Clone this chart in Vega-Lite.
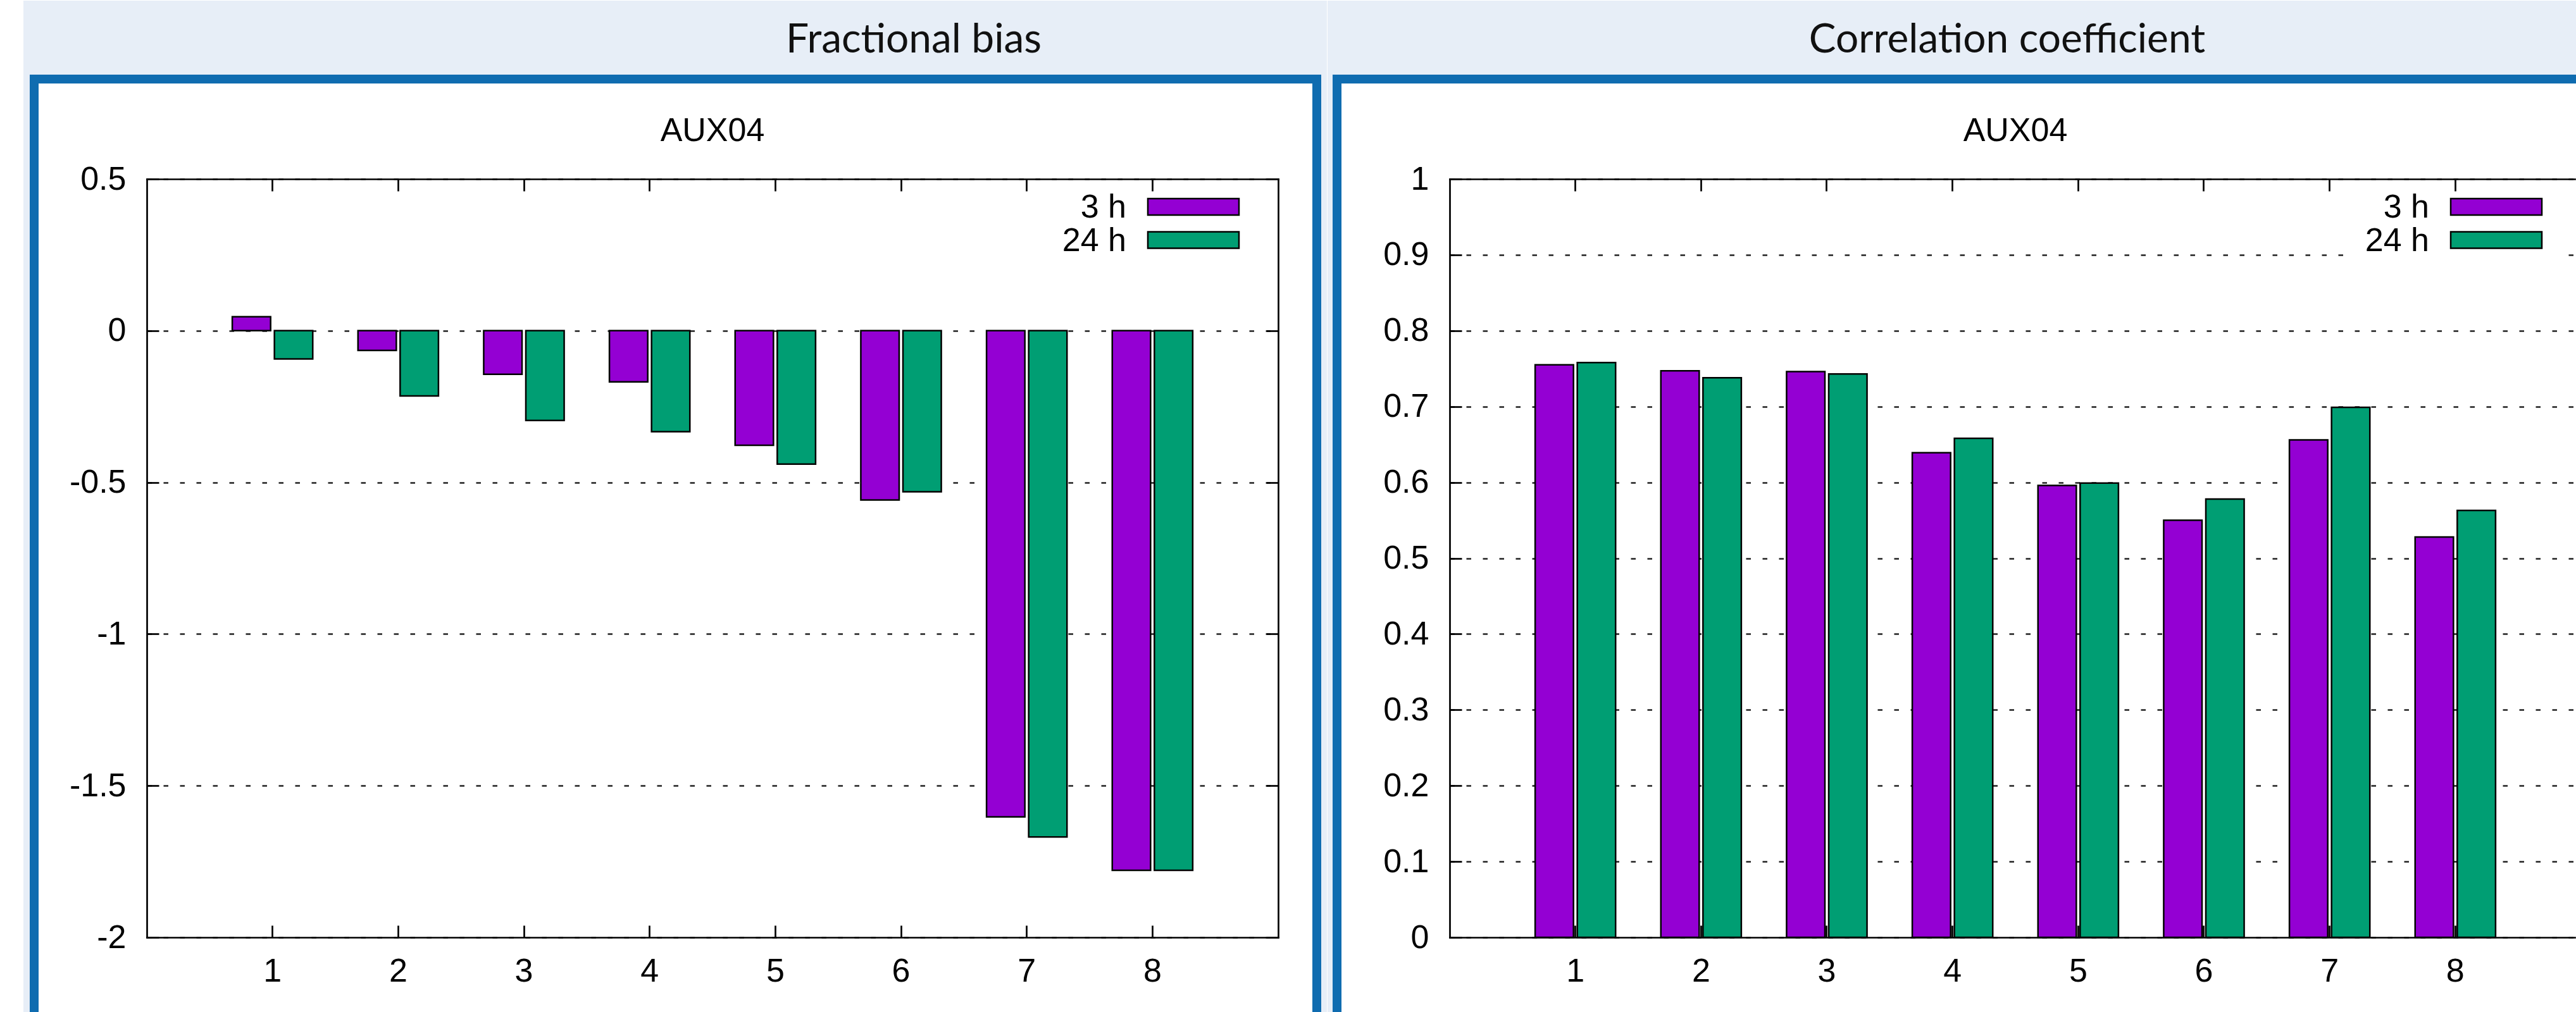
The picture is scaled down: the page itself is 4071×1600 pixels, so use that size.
{
  "$schema": "https://vega.github.io/schema/vega-lite/v6.json",
  "background": "white",
  "padding": {"left": 37, "top": 0, "right": 0, "bottom": 0},
  "autosize": {"type": "pad"},
  "spacing": 0,
  "datasets": {
    "stats": [
      {"lead": "1", "window": "3 h", "fb": 0.046, "r": 0.755},
      {"lead": "1", "window": "24 h", "fb": -0.093, "r": 0.758},
      {"lead": "2", "window": "3 h", "fb": -0.065, "r": 0.747},
      {"lead": "2", "window": "24 h", "fb": -0.215, "r": 0.738},
      {"lead": "3", "window": "3 h", "fb": -0.144, "r": 0.746},
      {"lead": "3", "window": "24 h", "fb": -0.296, "r": 0.743},
      {"lead": "4", "window": "3 h", "fb": -0.169, "r": 0.639},
      {"lead": "4", "window": "24 h", "fb": -0.333, "r": 0.658},
      {"lead": "5", "window": "3 h", "fb": -0.378, "r": 0.596},
      {"lead": "5", "window": "24 h", "fb": -0.44, "r": 0.599},
      {"lead": "6", "window": "3 h", "fb": -0.558, "r": 0.55},
      {"lead": "6", "window": "24 h", "fb": -0.531, "r": 0.578},
      {"lead": "7", "window": "3 h", "fb": -1.603, "r": 0.656},
      {"lead": "7", "window": "24 h", "fb": -1.669, "r": 0.699},
      {"lead": "8", "window": "3 h", "fb": -1.779, "r": 0.528},
      {"lead": "8", "window": "24 h", "fb": -1.779, "r": 0.563}
    ]
  },
  "resolve": {"scale": {"x": "independent", "y": "independent"}},
  "hconcat": [
    {
      "width": 1788,
      "height": 1199,
      "data": {"name": "stats"},
      "resolve": {"scale": {"x": "independent"}},
      "layer": [
        {"data": {"values": [{"k": 1}]}, "mark": {"type": "rect", "fill": "#e7eef7"},
         "encoding": {"x": {"datum": -0.98154, "type": "quantitative", "scale": {"domain": [0, 9], "nice": false, "zero": false}, "axis": null}, "x2": {"datum": 9.38758},
                      "y": {"datum": 1.08799, "type": "quantitative", "scale": {"domain": [-2, 0.5], "nice": false, "zero": false}, "axis": null}, "y2": {"datum": 0.84404}}},
        {"data": {"values": [{"k": 1}]}, "mark": {"type": "rect", "fill": "#e7eef7"},
         "encoding": {"x": {"datum": -0.98154, "type": "quantitative", "scale": {"domain": [0, 9], "nice": false, "zero": false}, "axis": null}, "x2": {"datum": -0.93121},
                      "y": {"datum": 0.84404, "type": "quantitative", "scale": {"domain": [-2, 0.5], "nice": false, "zero": false}, "axis": null}, "y2": {"datum": -2.24708}}},
        {"data": {"values": [{"k": 1}]}, "mark": {"type": "rect", "fill": "#e7eef7"},
         "encoding": {"x": {"datum": 9.34228, "type": "quantitative", "scale": {"domain": [0, 9], "nice": false, "zero": false}, "axis": null}, "x2": {"datum": 9.38758},
                      "y": {"datum": 0.84404, "type": "quantitative", "scale": {"domain": [-2, 0.5], "nice": false, "zero": false}, "axis": null}, "y2": {"datum": -2.24708}}},
        {"data": {"values": [{"k": 1}]}, "mark": {"type": "rect", "fill": "#0f6cb0"},
         "encoding": {"x": {"datum": -0.93121, "type": "quantitative", "scale": {"domain": [0, 9], "nice": false, "zero": false}, "axis": null}, "x2": {"datum": -0.86074},
                      "y": {"datum": 0.84404, "type": "quantitative", "scale": {"domain": [-2, 0.5], "nice": false, "zero": false}, "axis": null}, "y2": {"datum": -2.24708}}},
        {"data": {"values": [{"k": 1}]}, "mark": {"type": "rect", "fill": "#0f6cb0"},
         "encoding": {"x": {"datum": -0.93121, "type": "quantitative", "scale": {"domain": [0, 9], "nice": false, "zero": false}, "axis": null}, "x2": {"datum": 9.34228},
                      "y": {"datum": 0.84404, "type": "quantitative", "scale": {"domain": [-2, 0.5], "nice": false, "zero": false}, "axis": null}, "y2": {"datum": 0.81485}}},
        {"data": {"values": [{"k": 1}]}, "mark": {"type": "rect", "fill": "#0f6cb0"},
         "encoding": {"x": {"datum": 9.27181, "type": "quantitative", "scale": {"domain": [0, 9], "nice": false, "zero": false}, "axis": null}, "x2": {"datum": 9.34228},
                      "y": {"datum": 0.84404, "type": "quantitative", "scale": {"domain": [-2, 0.5], "nice": false, "zero": false}, "axis": null}, "y2": {"datum": -2.24708}}},
        {"mark": {"type": "bar", "stroke": "black", "strokeWidth": 2.5},
         "encoding": {
           "x": {"field": "lead", "type": "ordinal", "scale": {"type": "band", "paddingInner": 0.36, "paddingOuter": 0.68}, "axis": {"orient": "bottom", "title": null, "labelAngle": 0, "labelPadding": 47}},
           "xOffset": {"field": "window", "type": "nominal", "sort": ["3 h", "24 h"], "scale": {"paddingInner": 0.09, "paddingOuter": 0}},
           "y": {"field": "fb", "type": "quantitative", "scale": {"domain": [-2, 0.5], "nice": false, "zero": false},
                 "axis": {"orient": "left", "title": null, "values": [-2, -1.5, -1, -0.5, 0, 0.5], "grid": true, "format": "~g", "labelExpr": "replace(datum.label, '\u2212', '-')", "labelPadding": 52, "labelFlush": false, "labelOverlap": false}},
           "color": {"field": "window", "type": "nominal", "scale": {"domain": ["3 h", "24 h"], "range": ["#9400d3", "#009e73"]}, "legend": null}
         }},
        {"data": {"values": [{"k": 1}]}, "mark": {"type": "rect", "stroke": "black", "strokeWidth": 2.5},
         "encoding": {"x": {"datum": 7.96309, "type": "quantitative", "scale": {"domain": [0, 9], "nice": false, "zero": false}, "axis": null}, "x2": {"datum": 8.68792},
                      "y": {"datum": 0.43536, "type": "quantitative", "scale": {"domain": [-2, 0.5], "nice": false, "zero": false}, "axis": null}, "y2": {"datum": 0.38115},
                      "color": {"datum": "3 h", "type": "nominal", "legend": null}}},
        {"data": {"values": [{"k": 1}]}, "mark": {"type": "rect", "stroke": "black", "strokeWidth": 2.5},
         "encoding": {"x": {"datum": 7.96309, "type": "quantitative", "scale": {"domain": [0, 9], "nice": false, "zero": false}, "axis": null}, "x2": {"datum": 8.68792},
                      "y": {"datum": 0.3259, "type": "quantitative", "scale": {"domain": [-2, 0.5], "nice": false, "zero": false}, "axis": null}, "y2": {"datum": 0.27169},
                      "color": {"datum": "24 h", "type": "nominal", "legend": null}}},
        {"data": {"values": [{"k": 1}]}, "mark": {"type": "text", "text": "3 h", "align": "right", "baseline": "alphabetic", "font": "Liberation Sans", "fontSize": 52, "color": "black"},
         "encoding": {"x": {"datum": 7.79195, "type": "quantitative", "scale": {"domain": [0, 9], "nice": false, "zero": false}, "axis": null},
                      "y": {"datum": 0.37177, "type": "quantitative", "scale": {"domain": [-2, 0.5], "nice": false, "zero": false}, "axis": null}}},
        {"data": {"values": [{"k": 1}]}, "mark": {"type": "text", "text": "24 h", "align": "right", "baseline": "alphabetic", "font": "Liberation Sans", "fontSize": 52, "color": "black"},
         "encoding": {"x": {"datum": 7.79195, "type": "quantitative", "scale": {"domain": [0, 9], "nice": false, "zero": false}, "axis": null},
                      "y": {"datum": 0.2623, "type": "quantitative", "scale": {"domain": [-2, 0.5], "nice": false, "zero": false}, "axis": null}}},
        {"data": {"values": [{"k": 1}]}, "mark": {"type": "text", "text": "AUX04", "align": "center", "baseline": "alphabetic", "font": "Liberation Sans", "fontSize": 52, "color": "black"},
         "encoding": {"x": {"datum": 4.5, "type": "quantitative", "scale": {"domain": [0, 9], "nice": false, "zero": false}, "axis": null},
                      "y": {"datum": 0.62573, "type": "quantitative", "scale": {"domain": [-2, 0.5], "nice": false, "zero": false}, "axis": null}}},
        {"data": {"values": [{"k": 1}]}, "mark": {"type": "text", "text": "Fractional bias", "align": "center", "baseline": "alphabetic", "font": "Lato", "fontSize": 64, "color": "#111111"},
         "encoding": {"x": {"datum": 6.10067, "type": "quantitative", "scale": {"domain": [0, 9], "nice": false, "zero": false}, "axis": null},
                      "y": {"datum": 0.91701, "type": "quantitative", "scale": {"domain": [-2, 0.5], "nice": false, "zero": false}, "axis": null}}},
        {"mark": {"type": "rule", "opacity": 0},
         "encoding": {"x": {"field": "lead", "type": "ordinal", "scale": {"type": "band", "paddingInner": 0.36, "paddingOuter": 0.68}, "axis": {"orient": "top", "labels": false, "title": null}}}},
        {"mark": {"type": "rule", "opacity": 0},
         "encoding": {"y": {"field": "fb", "type": "quantitative", "scale": {"domain": [-2, 0.5], "nice": false, "zero": false}, "axis": {"orient": "right", "labels": false, "title": null, "values": [-2, -1.5, -1, -0.5, 0, 0.5]}}}}
      ]
    },
    {
      "width": 1778,
      "height": 1199,
      "data": {"name": "stats"},
      "resolve": {"scale": {"x": "independent"}},
      "layer": [
        {"data": {"values": [{"k": 1}]}, "mark": {"type": "rect", "fill": "#e7eef7"},
         "encoding": {"x": {"datum": -0.97148, "type": "quantitative", "scale": {"domain": [0, 8.94966], "nice": false, "zero": false}, "axis": null}, "x2": {"datum": 8.96225},
                      "y": {"datum": 1.2352, "type": "quantitative", "scale": {"domain": [0, 1], "nice": false, "zero": false}, "axis": null}, "y2": {"datum": 1.13761}}},
        {"data": {"values": [{"k": 1}]}, "mark": {"type": "rect", "fill": "#e7eef7"},
         "encoding": {"x": {"datum": -0.97148, "type": "quantitative", "scale": {"domain": [0, 8.94966], "nice": false, "zero": false}, "axis": null}, "x2": {"datum": -0.93121},
                      "y": {"datum": 1.13761, "type": "quantitative", "scale": {"domain": [0, 1], "nice": false, "zero": false}, "axis": null}, "y2": {"datum": -0.09883}}},
        {"data": {"values": [{"k": 1}]}, "mark": {"type": "rect", "fill": "#0f6cb0"},
         "encoding": {"x": {"datum": -0.93121, "type": "quantitative", "scale": {"domain": [0, 8.94966], "nice": false, "zero": false}, "axis": null}, "x2": {"datum": -0.86074},
                      "y": {"datum": 1.13761, "type": "quantitative", "scale": {"domain": [0, 1], "nice": false, "zero": false}, "axis": null}, "y2": {"datum": -0.09883}}},
        {"data": {"values": [{"k": 1}]}, "mark": {"type": "rect", "fill": "#0f6cb0"},
         "encoding": {"x": {"datum": -0.93121, "type": "quantitative", "scale": {"domain": [0, 8.94966], "nice": false, "zero": false}, "axis": null}, "x2": {"datum": 8.96225},
                      "y": {"datum": 1.13761, "type": "quantitative", "scale": {"domain": [0, 1], "nice": false, "zero": false}, "axis": null}, "y2": {"datum": 1.12594}}},
        {"data": {"values": [{"k": 1}]}, "mark": {"type": "rect", "fill": "white"},
         "encoding": {"x": {"datum": 7.12752, "type": "quantitative", "scale": {"domain": [0, 8.94966], "nice": false, "zero": false}, "axis": null}, "x2": {"datum": 8.84396},
                      "y": {"datum": 0.9825, "type": "quantitative", "scale": {"domain": [0, 1], "nice": false, "zero": false}, "axis": null}, "y2": {"datum": 0.87}}},
        {"mark": {"type": "bar", "stroke": "black", "strokeWidth": 2.5},
         "encoding": {
           "x": {"field": "lead", "type": "ordinal", "scale": {"type": "band", "paddingInner": 0.36, "paddingOuter": 0.65485, "align": 0.5192}, "axis": {"orient": "bottom", "title": null, "labelAngle": 0, "labelPadding": 47}},
           "xOffset": {"field": "window", "type": "nominal", "sort": ["3 h", "24 h"], "scale": {"paddingInner": 0.09, "paddingOuter": 0}},
           "y": {"field": "r", "type": "quantitative", "scale": {"domain": [0, 1], "nice": false, "zero": false},
                 "axis": {"orient": "left", "title": null, "values": [0, 0.1, 0.2, 0.3, 0.4, 0.5, 0.6, 0.7, 0.8, 0.9, 1], "grid": true, "format": "~g", "labelExpr": "replace(datum.label, '\u2212', '-')", "labelPadding": 52, "labelFlush": false, "labelOverlap": false}},
           "color": {"field": "window", "type": "nominal", "scale": {"domain": ["3 h", "24 h"], "range": ["#9400d3", "#009e73"]}, "legend": null}
         }},
        {"data": {"values": [{"k": 1}]}, "mark": {"type": "rect", "stroke": "black", "strokeWidth": 2.5},
         "encoding": {"x": {"datum": 7.96309, "type": "quantitative", "scale": {"domain": [0, 8.94966], "nice": false, "zero": false}, "axis": null}, "x2": {"datum": 8.68792},
                      "y": {"datum": 0.97415, "type": "quantitative", "scale": {"domain": [0, 1], "nice": false, "zero": false}, "axis": null}, "y2": {"datum": 0.95246},
                      "color": {"datum": "3 h", "type": "nominal", "legend": null}}},
        {"data": {"values": [{"k": 1}]}, "mark": {"type": "rect", "stroke": "black", "strokeWidth": 2.5},
         "encoding": {"x": {"datum": 7.96309, "type": "quantitative", "scale": {"domain": [0, 8.94966], "nice": false, "zero": false}, "axis": null}, "x2": {"datum": 8.68792},
                      "y": {"datum": 0.93036, "type": "quantitative", "scale": {"domain": [0, 1], "nice": false, "zero": false}, "axis": null}, "y2": {"datum": 0.90867},
                      "color": {"datum": "24 h", "type": "nominal", "legend": null}}},
        {"data": {"values": [{"k": 1}]}, "mark": {"type": "text", "text": "3 h", "align": "right", "baseline": "alphabetic", "font": "Liberation Sans", "fontSize": 52, "color": "black"},
         "encoding": {"x": {"datum": 7.79195, "type": "quantitative", "scale": {"domain": [0, 8.94966], "nice": false, "zero": false}, "axis": null},
                      "y": {"datum": 0.94871, "type": "quantitative", "scale": {"domain": [0, 1], "nice": false, "zero": false}, "axis": null}}},
        {"data": {"values": [{"k": 1}]}, "mark": {"type": "text", "text": "24 h", "align": "right", "baseline": "alphabetic", "font": "Liberation Sans", "fontSize": 52, "color": "black"},
         "encoding": {"x": {"datum": 7.79195, "type": "quantitative", "scale": {"domain": [0, 8.94966], "nice": false, "zero": false}, "axis": null},
                      "y": {"datum": 0.90492, "type": "quantitative", "scale": {"domain": [0, 1], "nice": false, "zero": false}, "axis": null}}},
        {"data": {"values": [{"k": 1}]}, "mark": {"type": "text", "text": "AUX04", "align": "center", "baseline": "alphabetic", "font": "Liberation Sans", "fontSize": 52, "color": "black"},
         "encoding": {"x": {"datum": 4.5, "type": "quantitative", "scale": {"domain": [0, 8.94966], "nice": false, "zero": false}, "axis": null},
                      "y": {"datum": 1.05029, "type": "quantitative", "scale": {"domain": [0, 1], "nice": false, "zero": false}, "axis": null}}},
        {"data": {"values": [{"k": 1}]}, "mark": {"type": "text", "text": "Correlation coefficient", "align": "center", "baseline": "alphabetic", "font": "Lato", "fontSize": 64, "color": "#111111"},
         "encoding": {"x": {"datum": 4.43456, "type": "quantitative", "scale": {"domain": [0, 8.94966], "nice": false, "zero": false}, "axis": null},
                      "y": {"datum": 1.16681, "type": "quantitative", "scale": {"domain": [0, 1], "nice": false, "zero": false}, "axis": null}}},
        {"mark": {"type": "rule", "opacity": 0},
         "encoding": {"x": {"field": "lead", "type": "ordinal", "scale": {"type": "band", "paddingInner": 0.36, "paddingOuter": 0.65485, "align": 0.5192}, "axis": {"orient": "top", "labels": false, "title": null}}}},
        {"mark": {"type": "rule", "opacity": 0},
         "encoding": {"y": {"field": "r", "type": "quantitative", "scale": {"domain": [0, 1], "nice": false, "zero": false}, "axis": {"orient": "right", "labels": false, "ticks": false, "domain": false, "grid": false, "title": null, "values": [0, 0.1, 0.2, 0.3, 0.4, 0.5, 0.6, 0.7, 0.8, 0.9, 1]}}}}
      ]
    }
  ],
  "config": {
    "view": {"stroke": null},
    "font": "Liberation Sans",
    "axis": {
      "domainColor": "black", "domainWidth": 2.7, "domainCap": "square",
      "tickColor": "black", "tickWidth": 2.7, "tickSize": -19,
      "labelFont": "Liberation Sans", "labelFontSize": 52, "labelColor": "black",
      "grid": false, "gridColor": "#222222", "gridDash": [7.5, 18.5], "gridWidth": 2.5
    }
  }
}
